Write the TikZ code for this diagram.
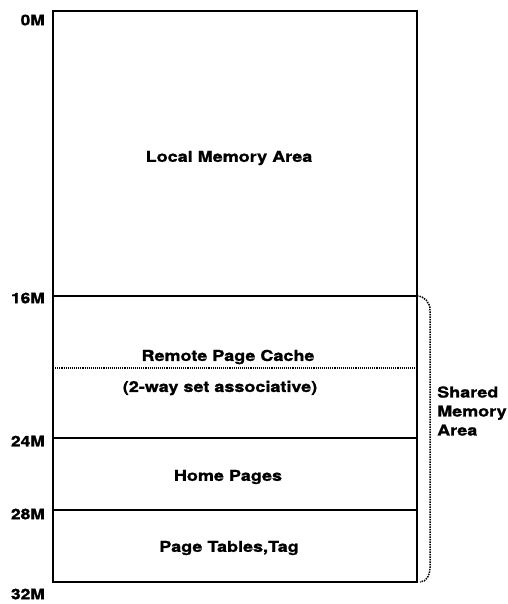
\documentclass[tikz,border=0pt]{standalone}
\usepackage{fontspec}
\setmainfont{TeX Gyre Heros}
\newfontfamily\labfont[FakeStretch=1.2,FakeBold=1.2]{TeX Gyre Heros}
\begin{document}
\begin{tikzpicture}[x=1pt,y=-1pt,
  region/.style={draw=none,inner sep=0pt,font=\labfont\bfseries\fontsize{15}{19}\selectfont},
  addr/.style={inner sep=0pt,font=\labfont\bfseries\fontsize{14.5}{18}\selectfont,anchor=east},
  wall/.style={line width=2pt},
  bracket/.style={densely dotted,line width=1.5pt}]
\useasboundingbox (0,0) rectangle (507,604);
\coordinate (tl) at (53,11);
\coordinate (br) at (417,582);
\draw[wall] (tl) rectangle (br);
\coordinate (a16l) at (53,296); \coordinate (a16r) at (417,296);
\coordinate (dl) at (53,368); \coordinate (dr) at (417,368);
\coordinate (a24l) at (53,438); \coordinate (a24r) at (417,438);
\coordinate (a28l) at (53,510); \coordinate (a28r) at (417,510);
\draw[wall] (a16l) -- (a16r);
\draw[densely dotted,line width=1.1pt] (dl) -- (dr);
\draw[wall] (a24l) -- (a24r);
\draw[wall] (a28l) -- (a28r);
\node[addr] (m0) at (45,20) {0M};
\node[addr] (m16) at (45,298) {16M};
\node[addr] (m24) at (45,441) {24M};
\node[addr] (m28) at (45,514) {28M};
\node[addr] (m32) at (45,594) {32M};
\node[region] (local) at (229,158) {Local Memory Area};
\node[region] (rpc) at (228,357) {Remote Page Cache};
\node[region] (assoc) at (220,388) {(2-way set associative)};
\node[region] (home) at (228,477) {Home Pages};
\node[region] (ptab) at (229,548) {Page Tables,Tag};
\node[region,align=left,anchor=west] (shared) at (437,411) {Shared\\Memory\\Area};
\coordinate (bt) at (a16r);
\coordinate (bb) at (br);
\draw[bracket] (bt) to[out=0,in=90] (430,310) -- (430,568) to[out=-90,in=0] (420,582);
\end{tikzpicture}
\end{document}
